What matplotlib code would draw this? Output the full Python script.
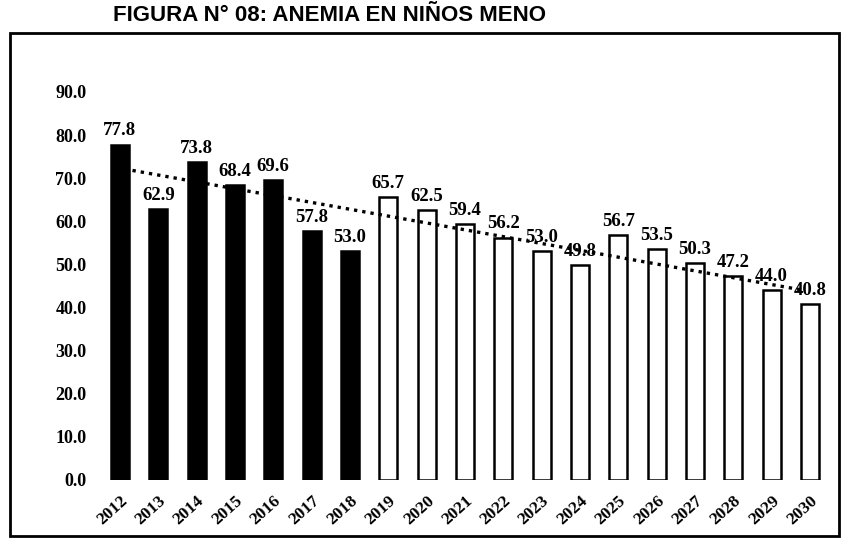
import matplotlib.pyplot as plt
import numpy as np
from matplotlib.patches import Rectangle

years = ['2012', '2013', '2014', '2015', '2016', '2017', '2018', '2019', '2020', '2021',
         '2022', '2023', '2024', '2025', '2026', '2027', '2028', '2029', '2030']
anemia = [77.8, 62.9, 73.8, 68.4, 69.6, 57.8, 53.0, 65.7, 62.5, 59.4,
          56.2, 53.0, 49.8, 56.7, 53.5, 50.3, 47.2, 44.0, 40.8]
n_real = 7  # 2012-2018 observed (black), rest projected (white)

plt.rcParams['font.family'] = ['Liberation Serif', 'DejaVu Serif']

fig = plt.figure(figsize=(8.5, 5.58), dpi=100)
ax = fig.add_axes([0.105, 0.14, 0.875, 0.757])

x = np.arange(len(years))
colors = ['black' if i < n_real else 'white' for i in x]
ax.bar(x, anemia, width=0.47, color=colors, edgecolor='black', linewidth=1.8)

for xi, v in zip(x, anemia):
    ax.text(xi, v + 1.2, f'{v:.1f}', ha='center', va='bottom',
            fontsize=13.5, fontweight='bold')

# linear trend line
k, b = np.polyfit(x, anemia, 1)
xt = np.array([-0.1, len(years) - 1.2])
ax.plot(xt, k * xt + b, linestyle=(0, (1, 1.5)), color='black', linewidth=2.4)

ax.set_ylim(0, 98)
ax.set_yticks(np.arange(0, 91, 10))
ax.set_yticklabels([f'{t:.1f}' for t in np.arange(0, 91, 10)],
                   fontsize=13, fontweight='bold')
ax.set_xlim(-0.8, len(years) - 0.4)
ax.set_xticks(x)
ax.set_xticklabels(years, rotation=42, ha='right', rotation_mode='anchor',
                   fontsize=12.5, fontweight='bold')
ax.tick_params(length=0, pad=9)
ax.tick_params(axis='y', pad=2)
for s in ax.spines.values():
    s.set_visible(False)

# chart area border
fig.patches.append(Rectangle((0.012, 0.04), 0.975, 0.9, transform=fig.transFigure,
                             fill=False, edgecolor='black', linewidth=2))

fig.text(0.133, 0.972, 'FIGURA N° 08: ANEMIA EN NIÑOS MENO',
         family='Liberation Sans', fontsize=16, fontweight='bold', va='center')

fig.savefig('out.png', dpi=100)
